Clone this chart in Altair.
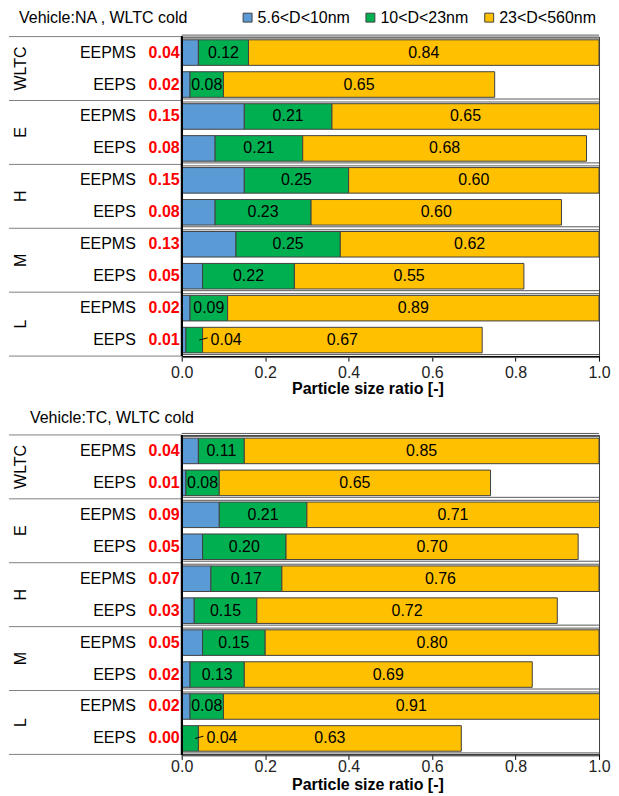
import altair as alt
import pandas as pd

groups = ["WLTC", "E", "H", "M", "L"]
instruments = ["EEPMS", "EEPS"]
segments = ["5.6<D<10nm", "10<D<23nm", "23<D<560nm"]
seg_colors = ["#5B9BD5", "#00B050", "#FFC000"]

# Vehicle NA, WLTC cold (rows: WLTC EEPMS, WLTC EEPS, E EEPMS, E EEPS, ...)
na_small = [0.04, 0.02, 0.15, 0.08, 0.15, 0.08, 0.13, 0.05, 0.02, 0.01]
na_mid = [0.12, 0.08, 0.21, 0.21, 0.25, 0.23, 0.25, 0.22, 0.09, 0.04]
na_large = [0.84, 0.65, 0.65, 0.68, 0.60, 0.60, 0.62, 0.55, 0.89, 0.67]

# Vehicle TC, WLTC cold
tc_small = [0.04, 0.01, 0.09, 0.05, 0.07, 0.03, 0.05, 0.02, 0.02, 0.00]
tc_mid = [0.11, 0.08, 0.21, 0.20, 0.17, 0.15, 0.15, 0.13, 0.08, 0.04]
tc_large = [0.85, 0.65, 0.71, 0.70, 0.76, 0.72, 0.80, 0.69, 0.91, 0.63]

x_ticks = [0, 0.2, 0.4, 0.6, 0.8, 1.0]

W = 418
H = 320
LEFT = 173
FONT = "Liberation Sans"


def build(small, mid, large):
    rows = []
    for i in range(len(small)):
        start = 0.0
        for s, v in zip(segments, [small[i], mid[i], large[i]]):
            end = start + v
            rows.append(dict(
                i=i, group=groups[i // 2], inst=instruments[i % 2], seg=s,
                value=v, start=start, end=end,
                ytop=i + 0.1, ybot=i + 0.9, ymid=i + 0.5,
                mid=(start + min(end, 1.0)) / 2,
            ))
            start = end
    return pd.DataFrame(rows)


xscale = alt.Scale(domain=[0, 1], nice=False, zero=False)
yscale = alt.Scale(domain=[0, 10], reverse=True, nice=False, zero=False)


def make_axis(title_y, label_pad):
    return alt.Axis(values=x_ticks, format=".1f", grid=False, tickSize=5,
                    labelFontSize=16, labelColor="#222", labelPadding=label_pad,
                    labelBaseline="middle",
                    titleFontSize=16, titleFontWeight="bold", titleColor="#000",
                    titleX=186, titleY=title_y, titleBaseline="middle", titleAlign="center",
                    domainColor="#000", tickColor="#000", labelFlush=False)


def Y(field):
    return alt.Y(field, type="quantitative", scale=yscale, axis=None)


def panel(small, mid, large, title, tx, ty, legend, title_y, label_pad):
    xaxis = make_axis(title_y, label_pad)

    def X(field):
        return alt.X(field, type="quantitative", scale=xscale, axis=xaxis,
                     title="Particle size ratio [-]")

    df = build(small, mid, large)
    first = df[df.seg == segments[0]]
    labs = df[df.seg != segments[0]]
    inside = labs[labs.value >= 0.05]
    outside = labs[labs.value < 0.05].copy()
    outside["lx0"] = outside["end"] - 0.008
    outside["lx1"] = outside["end"] + 0.012
    outside["ly1"] = outside["ymid"] - 0.07
    grp = pd.DataFrame({"group": groups, "yc": [2 * k + 1 for k in range(len(groups))]})
    sep = pd.DataFrame({"y": [2 * k for k in range(len(groups) + 1)]})
    ttl = pd.DataFrame({"t": [title]})

    if legend:
        leg = alt.Legend(orient="none", direction="horizontal", legendX=58, legendY=-27,
                         title=None, symbolType="square", symbolSize=80,
                         symbolStrokeColor="#404040", symbolStrokeWidth=1,
                         labelFontSize=16, labelColor="#000", columnPadding=12,
                         labelOffset=2, symbolOffset=0)
    else:
        leg = None

    bars = alt.Chart(df).mark_bar(stroke="#404040", strokeWidth=1, clip=True).encode(
        x=X("start"), x2="end", y=Y("ytop"), y2="ybot",
        color=alt.Color("seg:N", scale=alt.Scale(domain=segments, range=seg_colors),
                        sort=segments, legend=leg),
    )
    sep_left = alt.Chart(sep).mark_rule(color="#808080", strokeWidth=1).encode(
        x=alt.value(-LEFT), x2=alt.value(0), y=Y("y"))
    sep_in1 = alt.Chart(sep).mark_rule(color="#595959", strokeWidth=1, yOffset=-1.5).encode(
        x=alt.value(0), x2=alt.value(W), y=Y("y"))
    sep_in2 = alt.Chart(sep).mark_rule(color="#595959", strokeWidth=1, yOffset=1.5).encode(
        x=alt.value(0), x2=alt.value(W), y=Y("y"))
    yaxis_line = alt.Chart(sep).mark_rule(color="#000", strokeWidth=1.5).encode(
        x=alt.value(0), y=alt.value(0), y2=alt.value(H))

    txt = dict(font=FONT, fontSize=16, baseline="middle")
    inst_t = alt.Chart(first).mark_text(align="right", color="#000", **txt).encode(
        x=alt.value(-46), y=Y("ymid"), text="inst:N")
    red_t = alt.Chart(first).mark_text(align="right", color="#FF0000", fontWeight="bold", **txt).encode(
        x=alt.value(-2), y=Y("ymid"), text=alt.Text("value:Q", format=".2f"))
    grp_t = alt.Chart(grp).mark_text(align="center", angle=270, color="#000", **txt).encode(
        x=alt.value(-161), y=Y("yc"), text="group:N")
    in_t = alt.Chart(inside).mark_text(align="center", color="#000", **txt).encode(
        x=X("mid"), y=Y("ymid"), text=alt.Text("value:Q", format=".2f"))
    out_t = alt.Chart(outside).mark_text(align="left", dx=8, color="#000", **txt).encode(
        x=X("end"), y=Y("ymid"), text=alt.Text("value:Q", format=".2f"))
    leader = alt.Chart(outside).mark_rule(color="#000", strokeWidth=1).encode(
        x=X("lx0"), x2="lx1", y=Y("ymid"), y2="ly1")
    title_t = alt.Chart(ttl).mark_text(align="left", color="#000", **txt).encode(
        x=alt.value(tx), y=alt.value(ty), text="t:N")

    return alt.layer(bars, sep_left, sep_in1, sep_in2, yaxis_line, inst_t, red_t, grp_t,
                     in_t, out_t, leader, title_t).properties(width=W, height=H)


top = panel(na_small, na_mid, na_large, "Vehicle:NA , WLTC cold", -163, -19, True, 32, 11)
bottom = panel(tc_small, tc_mid, tc_large, "Vehicle:TC, WLTC cold", -152, -17, False, 30, 7)

chart = alt.vconcat(top, bottom, spacing=12).properties(
    padding={"left": 0, "top": 0, "right": 0, "bottom": 0}
).configure(font=FONT).configure_view(stroke="#404040", strokeWidth=1)

chart.save("out.html", embed_options={"renderer": "svg", "actions": False})
